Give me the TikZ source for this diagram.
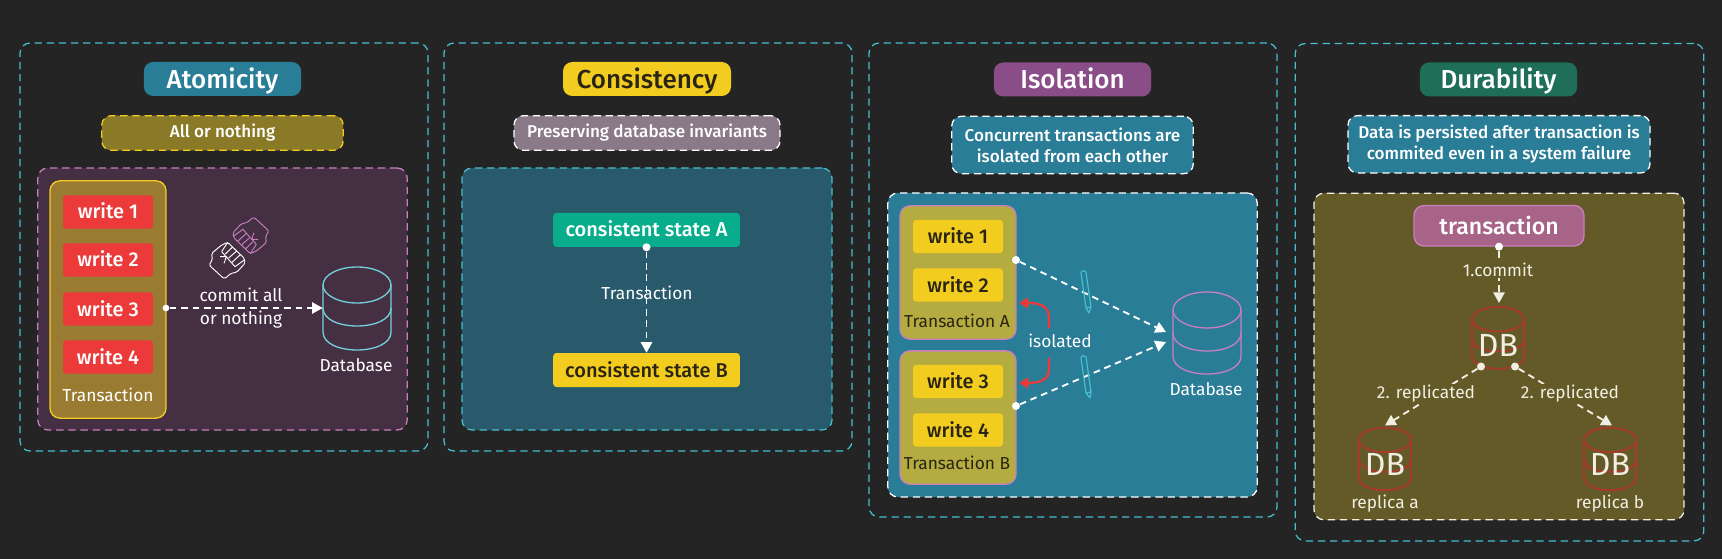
\documentclass[tikz,border=0pt]{standalone}
\usepackage{fontspec}
\setmainfont{Fira Sans Medium}
\newfontfamily\lightface{Fira Sans}
\usetikzlibrary{arrows.meta,calc}
\definecolor{bg}{HTML}{242424}
\definecolor{teal}{HTML}{2A7D96}
\definecolor{cyanline}{HTML}{45BFCE}
\definecolor{pinkline}{HTML}{C77FC0}
\definecolor{yel}{HTML}{F2CD1F}
\definecolor{ink}{HTML}{2A2414}
\definecolor{redw}{HTML}{EC3A3A}
\definecolor{dbred}{HTML}{A83A2C}
\definecolor{cream}{HTML}{F0EFE2}
\definecolor{innerA}{HTML}{452F42}
\definecolor{innerC}{HTML}{285A6B}
\definecolor{innerD}{HTML}{645A28}
\definecolor{subA}{HTML}{8A7A28}
\definecolor{subC}{HTML}{8A7A88}
\definecolor{txA}{HTML}{9A7B32}
\definecolor{txI}{HTML}{B4AC40}
\definecolor{titleI}{HTML}{8A4D87}
\definecolor{titleD}{HTML}{1E6E58}
\definecolor{stateA}{HTML}{08AD8C}
\definecolor{trD}{HTML}{A86488}
\tikzset{
  x=0.75pt,y=-0.75pt,
  dashline/.style={line width=0.95pt,dash pattern=on 5.5pt off 3.6pt},
  panel/.style={draw=cyanline,dashline,rounded corners=7.5pt},
  inner/.style={dashline,rounded corners=7.5pt},
  titlebox/.style={rounded corners=7pt,font=\fontsize{19.5}{22}\selectfont,text=white,minimum height=25.5pt,minimum width=118pt,inner sep=0pt,text height=14pt,text depth=0pt},
  subbox/.style={dashline,rounded corners=7pt,font=\fontsize{12.8}{15.5}\selectfont,text=white,inner sep=0pt,align=center},
  writebox/.style={rounded corners=2.5pt,font=\fontsize{15}{18}\selectfont,minimum width=67.5pt,minimum height=25pt,inner sep=0pt,text height=10.5pt,text depth=0pt},
  statebox/.style={rounded corners=2.5pt,font=\fontsize{15}{18}\selectfont,minimum width=140pt,minimum height=25.5pt,inner sep=0pt,text height=10.5pt,text depth=0pt},
  txbox/.style={rounded corners=7.5pt,line width=1pt,inner sep=0pt},
  lbl/.style={font=\lightface\fontsize{13}{15.5}\selectfont,text=white,inner sep=0pt,align=center},
  dotn/.style={circle,fill=white,inner sep=0pt,minimum size=6pt},
  flow/.style={white,line width=1.4pt,dash pattern=on 5pt off 3.6pt,-{Triangle[length=8pt,width=8.5pt]}},
  redarrow/.style={redw,line width=1.7pt,-{Triangle[length=7pt,width=8pt]}},
  dbtext/.style={font=\lightface\fontsize{24}{26}\selectfont,text=cream,inner sep=0pt,text height=16.5pt,text depth=0pt},
  cylbox/.style={inner sep=0pt},
}
% cylinder: line width, cx, top, rx, ry, mid base, bottom base, colour
\newcommand{\cylshape}[8]{%
  \pgfmathsetmacro{\cylL}{#2-#4}\pgfmathsetmacro{\cylR}{#2+#4}%
  \pgfmathsetmacro{\cylC}{#3+#5}\pgfmathsetmacro{\cylK}{1.333*#5}%
  \draw[#8,line width=#1] (#2,\cylC) ellipse [x radius=#4,y radius=#5];
  \draw[#8,line width=#1] (\cylL,\cylC) -- (\cylL,#7) .. controls (\cylL,#7+\cylK) and (\cylR,#7+\cylK) .. (\cylR,#7) -- (\cylR,\cylC);
  \draw[#8,line width=#1] (\cylL,#6) .. controls (\cylL,#6+\cylK) and (\cylR,#6+\cylK) .. (\cylR,#6);
}
\newcommand{\fistshape}[1]{%
  \begin{scope}[shift={(-5,6)}]
  \draw[#1,rounded corners=1.2pt] (-77,10) -- (-47,-15) -- (-29,-23) -- (21,25) -- (23,40) -- (-2,67) -- (-19,70) -- (-39,87) -- (-85,45) -- (-75,30) -- cycle;
  \draw[#1] (-29,-23) -- (-47,5) -- (-7,50) -- (21,30);
  \draw[#1] (-36,12) -- (-14,-9) (-26,24) -- (-2,3) (-16,37) -- (9,14);
  \draw[#1] (-52,20) -- (-33,20) -- (-40,40);
  \end{scope}
}
\begin{document}
\begin{tikzpicture}
\useasboundingbox (0,0) rectangle (1722,559);
\fill[bg] (0,0) rectangle (1722,559);

% ---------- Atomicity
\node[panel,minimum width=306pt,minimum height=306pt] (pA) at (224,247) {};
\node[titlebox,fill=teal] (tA) at (222.5,79) {Atomicity};
\node[subbox,draw=yel,fill=subA,minimum width=181pt,minimum height=26pt] (sA) at (222.5,133) {All or nothing};
\node[inner,draw=pinkline,fill=innerA,minimum width=277pt,minimum height=196.5pt] (iA) at (222.5,299) {};
\node[txbox,draw=yel,fill=txA,minimum width=87pt,minimum height=178pt] (txA) at (108,299.5) {};
\node[writebox,fill=redw,text=white] (w1) at (108,212) {write 1};
\node[writebox,fill=redw,text=white] (w2) at (108,260) {write 2};
\node[writebox,fill=redw,text=white] (w3) at (108,309) {write 3};
\node[writebox,fill=redw,text=white] (w4) at (108,357) {write 4};
\node[lbl] (ltA) at (108,395) {Transaction};
\cylshape{1pt}{357}{267}{34}{18}{308}{332}{cyanline!75!white}
\node[cylbox,minimum width=51pt,minimum height=62pt] (dbA) at (357,308) {};
\node[lbl] (ldbA) at (356,365) {Database};
\node[dotn,minimum size=5pt] (dA) at (166,308) {};
\draw[flow] (dA) -- (dbA.west);
\node[lbl] (cA) at (241,295) {commit all};
\node[lbl] (cB) at (241,319.5) {or nothing};
\begin{scope}[shift={(239,248)},scale=0.3333,line width=0.7pt,line join=round]
  \fistshape{white}
  \begin{scope}[rotate=180]\fistshape{pinkline}\end{scope}
\end{scope}

% ---------- Consistency
\node[panel,minimum width=306pt,minimum height=306pt] (pC) at (648,247) {};
\node[titlebox,fill=yel,text=ink,minimum width=126pt] (tC) at (647,79) {Consistency};
\node[subbox,draw=white,fill=subC,minimum width=199.5pt,minimum height=26pt] (sC) at (647,133) {Preserving database invariants};
\node[inner,draw=cyanline,fill=innerC,minimum width=277.5pt,minimum height=196.5pt] (iC) at (647,299) {};
\node[statebox,fill=stateA,text=white] (sa) at (646.5,230) {consistent state A};
\node[statebox,fill=yel,text=ink] (sb) at (646.5,370) {consistent state B};
\node[dotn] (dC) at (sa.south) {};
\draw[flow] (dC) -- (sb.north);
\node[lbl] (lC) at (647,293) {Transaction};

% ---------- Isolation
\node[panel,minimum width=306pt,minimum height=355.5pt] (pI) at (1073,280) {};
\node[titlebox,fill=titleI,minimum width=118pt] (tI) at (1072.5,79.5) {Isolation};
\node[subbox,draw=white,fill=teal,minimum width=181pt,minimum height=43pt] (sI) at (1072.5,145) {Concurrent transactions are\\isolated from each other};
\node[inner,draw=white,fill=teal,minimum width=277pt,minimum height=228pt] (iI) at (1072.5,345) {};
\node[txbox,draw=pinkline,fill=txI,minimum width=87pt,minimum height=100pt] (tia) at (958,272.5) {};
\node[txbox,draw=pinkline,fill=txI,minimum width=87pt,minimum height=100pt] (tib) at (958,417.5) {};
\node[writebox,fill=yel,text=ink] (iw1) at (958,236.5) {write 1};
\node[writebox,fill=yel,text=ink] (iw2) at (958,285) {write 2};
\node[lbl,text=ink] (lta) at (957,321) {Transaction A};
\node[writebox,fill=yel,text=ink] (iw3) at (958,381.5) {write 3};
\node[writebox,fill=yel,text=ink] (iw4) at (958,430) {write 4};
\node[lbl,text=ink] (ltb) at (957,463) {Transaction B};
\cylshape{1pt}{1207}{292}{34}{18}{333}{356}{pinkline}
\node[cylbox,minimum width=51pt,minimum height=62pt] (dbI) at (1207,333) {};
\node[lbl] (ldbI) at (1206,389) {Database};
\node[dotn] (da) at (1016,260) {};
\node[dotn] (db) at (1016,406) {};
\coordinate (ea) at (1166,332);
\coordinate (eb) at (1166,342);
\draw[flow] (da) -- (ea);
\draw[flow] (db) -- (eb);
\node[lbl] (iso) at (1060,341) {isolated};
\coordinate (ra) at (1019,303);
\coordinate (rb) at (1019,383);
\draw[redarrow] (1049,328) -- (1049,318) .. controls (1049,306) and (1040,303) .. (ra);
\draw[redarrow] (1049,358) -- (1049,368) .. controls (1049,380) and (1040,383) .. (rb);
% pens
\begin{scope}[line width=0.9pt,line join=round]
  \draw[cyanline] (1081,273) .. controls (1081,270) and (1085,270) .. (1086,272) -- (1091,307) -- (1089,313) -- (1086,308) -- cycle (1086,308) -- (1091,307);
  \draw[cyanline] (1081,358) .. controls (1081,355) and (1085,355) .. (1086,357) -- (1091,392) -- (1090,398) -- (1086,393) -- cycle (1086,393) -- (1091,392);
\end{scope}

% ---------- Durability
\node[panel,minimum width=306.5pt,minimum height=373pt] (pD) at (1499.5,292.25) {};
\node[titlebox,fill=titleD,minimum width=118pt] (tD) at (1498.5,79.5) {Durability};
\node[subbox,draw=white,fill=teal,minimum width=226.5pt,minimum height=43pt] (sD) at (1499,144.3) {Data is persisted after transaction is\\commited even in a system failure};
\node[inner,draw=cream,fill=innerD,minimum width=277.5pt,minimum height=245pt] (iD) at (1499,356.5) {};
\node[txbox,draw=pinkline,fill=trD,minimum width=127.5pt,minimum height=30.4pt,font=\fontsize{17.3}{20}\selectfont,text=white,text height=12.5pt,text depth=0pt] (trD) at (1499,225.75) {transaction};
\cylshape{1.4pt}{1498}{307}{26}{12.3}{339}{356.5}{dbred}
\cylshape{1.4pt}{1385}{427.6}{26}{12.3}{459.5}{477.8}{dbred}
\cylshape{1.4pt}{1610}{427.6}{26}{12.3}{459.5}{477.8}{dbred}
\node[dbtext] (db0) at (1498,345.5) {DB};
\node[dbtext] (db1) at (1385,464.5) {DB};
\node[dbtext] (db2) at (1610,464.5) {DB};
\coordinate (tip0) at (1499,303);
\coordinate (tip1) at (1385,425.5);
\coordinate (tip2) at (1612,425.5);
\node[dotn] (d0) at (trD.south) {};
\node[dotn,fill=cream] (d1) at (1481,366.5) {};
\node[dotn,fill=cream] (d2) at (1515,366.5) {};
\draw[flow,cream] (d0) -- (tip0);
\draw[flow,cream] (d1) -- (tip1);
\draw[flow,cream] (d2) -- (tip2);
\node[lbl,fill=innerD,text=cream,inner sep=1pt] (l0) at (1498,270) {1.commit};
\node[lbl,fill=innerD,text=cream,inner sep=1pt] (l1) at (1426,394) {2. replicated};
\node[lbl,fill=innerD,text=cream,inner sep=1pt] (l2) at (1570,394) {2. replicated};
\node[lbl,text=cream] (ra1) at (1385,503.5) {replica a};
\node[lbl,text=cream] (rb1) at (1610,503.5) {replica b};
\end{tikzpicture}
\end{document}
